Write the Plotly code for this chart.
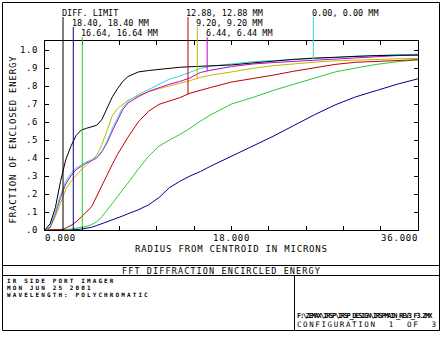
import numpy as np
import plotly.graph_objects as go

# Radius from centroid (microns) at which the encircled energy was sampled
radius = [0, 0.5, 1, 1.5, 2, 2.5, 3, 3.5, 4, 4.5, 5, 5.5, 6, 6.5, 7, 7.5, 8,
          9, 10, 11, 12, 13, 14, 15, 16, 18, 20, 22, 24, 26, 28, 30, 32, 34, 36]

# Fraction of enclosed energy for each field
ee_diff = [0, .035, .125, .27, .39, .465, .525, .555, .565, .572, .582, .615, .68, .74,
           .785, .825, .852, .878, .886, .893, .9, .904, .907, .91, .912, .917, .928,
           .94, .948, .955, .961, .966, .969, .971, .972]
ee_f0 = [0, .02, .1, .195, .27, .315, .345, .363, .378, .39, .405, .44, .495, .565,
         .625, .68, .715, .752, .78, .81, .838, .855, .875, .898, .91, .922, .935,
         .941, .946, .95, .958, .966, .971, .975, .977]
ee_f644 = [0, .015, .09, .18, .255, .3, .335, .355, .372, .385, .4, .435, .485, .55,
           .61, .668, .705, .74, .77, .792, .81, .825, .845, .875, .888, .908, .922,
           .93, .937, .942, .951, .958, .964, .969, .972]
ee_f920 = [0, .012, .075, .155, .225, .27, .305, .335, .36, .385, .415, .475, .56,
           .635, .675, .7, .72, .745, .768, .785, .8, .812, .83, .848, .86, .878, .898,
           .913, .924, .932, .94, .945, .948, .951, .953]
ee_f1288 = [0, 0, 0, .002, .01, .025, .045, .07, .1, .13, .19, .25, .305, .365, .42,
            .47, .515, .6, .66, .698, .715, .735, .76, .778, .792, .822, .84, .86,
            .882, .9, .92, .932, .938, .942, .946]
ee_f1664 = [0, 0, 0, 0, .002, .005, .01, .014, .02, .03, .045, .075, .11, .148, .185,
            .225, .26, .338, .41, .465, .5, .53, .565, .605, .64, .7, .735, .775,
            .81, .845, .878, .9, .92, .935, .946]
ee_f1840 = [0, 0, 0, 0, 0, 0, .002, .005, .01, .015, .025, .035, .045, .055, .068,
            .078, .09, .112, .14, .18, .235, .27, .3, .325, .355, .41, .465, .52,
            .58, .64, .695, .74, .775, .81, .84]

series_names = ["DIFF. LIMIT", "0.00, 0.00 MM", "6.44, 6.44 MM", "9.20, 9.20 MM",
                "12.88, 12.88 MM", "16.64, 16.64 MM", "18.40, 18.40 MM"]
series_values = [ee_diff, ee_f0, ee_f644, ee_f920, ee_f1288, ee_f1664, ee_f1840]
series_colors = ["#000000", "#30d8d8", "#c800c8", "#c0b800", "#c00000", "#30c830", "#000090"]

# Radius where each curve's label leader is attached
leader_radius = [1.74, 25.9, 15.65, 14.7, 13.8, 3.6, 2.73]
leader_row = [0, 0, 2, 1, 0, 2, 1]

x_ticks = [0, 18, 36]
x_tick_text = ["0.000", "18.000", "36.000"]
y_ticks = [0, .1, .2, .3, .4, .5, .6, .7, .8, .9, 1.0]
y_tick_text = [".0", ".1", ".2", ".3", ".4", ".5", ".6", ".7", ".8", ".9", "1.0"]

title_text = "FFT DIFFRACTION ENCIRCLED ENERGY"
info_lines = ["IR SIDE PORT IMAGER", "MON JUN 25 2001", "WAVELENGTH: POLYCHROMATIC"]
file_text = "F:\\ZEMAX\\IRSP\\IRSP_DESIGN\\IRSPMAIN_REV3_F3.ZMX"
config_text = "CONFIGURATION  1  OF  3"

W, H = 442, 342
L, R, T, B = 45, 418, 41, 230
X_RANGE = [0, 36]
Y_RANGE = [0, 1.05]
FONT = "DejaVu Sans Mono"


def pxx(px):
    return (px - L) / (R - L)


def pxy(py):
    return (B - py) / (B - T)


def spaced(text, spacing):
    return '<span style="letter-spacing:%.2fpx">%s</span>' % (spacing, text)


fig = go.Figure()

draw_order = [6, 5, 4, 3, 2, 1, 0]
for i in draw_order:
    fig.add_trace(go.Scatter(x=radius, y=series_values[i], mode="lines",
                             line=dict(color=series_colors[i], width=1),
                             name=series_names[i], showlegend=False,
                             hoverinfo="skip"))

shapes = []
annotations = []

# Label leaders: part inside the plot ends on the curve, part above reaches the text
row_text_y = [13.5, 23, 32.5]
row_bottom = [17, 27, 37]
for i, name in enumerate(series_names):
    r = leader_radius[i]
    end = 0 if i == 0 else float(np.interp(r, radius, series_values[i]))
    col = series_colors[i]
    shapes.append(dict(type="line", xref="x", yref="y", x0=r, x1=r, y0=end,
                       y1=Y_RANGE[1], line=dict(color=col, width=1)))
    shapes.append(dict(type="line", xref="x", yref="paper", x0=r, x1=r, y0=1,
                       y1=pxy(row_bottom[leader_row[i]]), line=dict(color=col, width=1)))
    annotations.append(dict(xref="x", yref="paper", x=r, y=pxy(row_text_y[leader_row[i]]),
                            xshift=-1.5, text=name, showarrow=False, xanchor="left",
                            yanchor="middle", borderpad=0, borderwidth=0,
                            font=dict(family=FONT, size=8.5, color="black")))

# Frame and title block
frame = dict(color="black", width=1)
shapes.append(dict(type="rect", xref="paper", yref="paper", x0=pxx(2.5), x1=pxx(439.5),
                   y0=pxy(2.5), y1=pxy(330.5), line=frame))
for py in (265.5, 275.5):
    shapes.append(dict(type="line", xref="paper", yref="paper", x0=pxx(2.5), x1=pxx(439.5),
                       y0=pxy(py), y1=pxy(py), line=frame))
shapes.append(dict(type="line", xref="paper", yref="paper", x0=pxx(294.5), x1=pxx(294.5),
                   y0=pxy(275.5), y1=pxy(330.5), line=frame))

# Tick labels
for v, t in zip(y_ticks, y_tick_text):
    annotations.append(dict(xref="paper", yref="y", x=pxx(38), y=v, text=spaced(t, 0.6),
                            showarrow=False, xanchor="right", yanchor="middle",
                            borderpad=0, borderwidth=0,
                            font=dict(family=FONT, size=9, color="black")))
for k, (v, t) in enumerate(zip(x_ticks, x_tick_text)):
    anchor = "left" if k == 0 else ("right" if k == len(x_ticks) - 1 else "center")
    annotations.append(dict(xref="x", yref="paper", x=v, y=pxy(238.5), text=spaced(t, 0.8),
                            showarrow=False, xanchor=anchor, yanchor="middle",
                            borderpad=0, borderwidth=0,
                            font=dict(family=FONT, size=9, color="black")))

# Axis titles
annotations.append(dict(xref="paper", yref="paper", x=pxx(231.5), y=pxy(248.5),
                        text=spaced("RADIUS FROM CENTROID IN MICRONS", 0.8), showarrow=False,
                        xanchor="center", yanchor="middle", borderpad=0, borderwidth=0,
                        font=dict(family=FONT, size=9, color="black")))
annotations.append(dict(xref="paper", yref="paper", x=pxx(12.5), y=pxy(140),
                        text=spaced("FRACTION OF ENCLOSED ENERGY", 0.8), showarrow=False,
                        textangle=-90, xanchor="center", yanchor="middle", borderpad=0,
                        borderwidth=0, font=dict(family=FONT, size=9, color="black")))

# Title block text
annotations.append(dict(xref="paper", yref="paper", x=pxx(221), y=pxy(270.5),
                        text=spaced(title_text, 1.1), showarrow=False, xanchor="center",
                        yanchor="middle", borderpad=0, borderwidth=0,
                        font=dict(family=FONT, size=8.5, color="black")))
for k, line in enumerate(info_lines):
    annotations.append(dict(xref="paper", yref="paper", x=pxx(6.5), y=pxy(280.5 + 7 * k),
                            text=spaced(line, 2.1), showarrow=False, xanchor="left",
                            yanchor="middle", borderpad=0, borderwidth=0,
                            font=dict(family=FONT, size=6, color="black", weight="bold")))
annotations.append(dict(xref="paper", yref="paper", x=pxx(296.5), y=pxy(316),
                        text=spaced(file_text, -1.3), showarrow=False, xanchor="left",
                        yanchor="middle", borderpad=0, borderwidth=0,
                        font=dict(family=FONT, size=7, color="black", weight="bold")))
annotations.append(dict(xref="paper", yref="paper", x=pxx(296.5), y=pxy(324.5),
                        text=spaced(config_text, 1.6), showarrow=False, xanchor="left",
                        yanchor="middle", borderpad=0, borderwidth=0,
                        font=dict(family=FONT, size=7.5, color="black")))

axis_common = dict(showline=True, mirror="ticks", linecolor="black", linewidth=1,
                   ticks="inside", ticklen=4, tickcolor="black", tickwidth=1,
                   showticklabels=False, showgrid=False, zeroline=False, fixedrange=True)

fig.update_layout(
    width=W, height=H,
    margin=dict(l=L, r=W - R, t=T, b=H - B, pad=0),
    paper_bgcolor="white", plot_bgcolor="white",
    xaxis=dict(range=X_RANGE, tick0=0, dtick=3.6, **axis_common),
    yaxis=dict(range=Y_RANGE, tick0=0, dtick=0.1, **axis_common),
    shapes=shapes, annotations=annotations, showlegend=False,
)

fig.write_html("out.html", config=dict(displayModeBar=False))
